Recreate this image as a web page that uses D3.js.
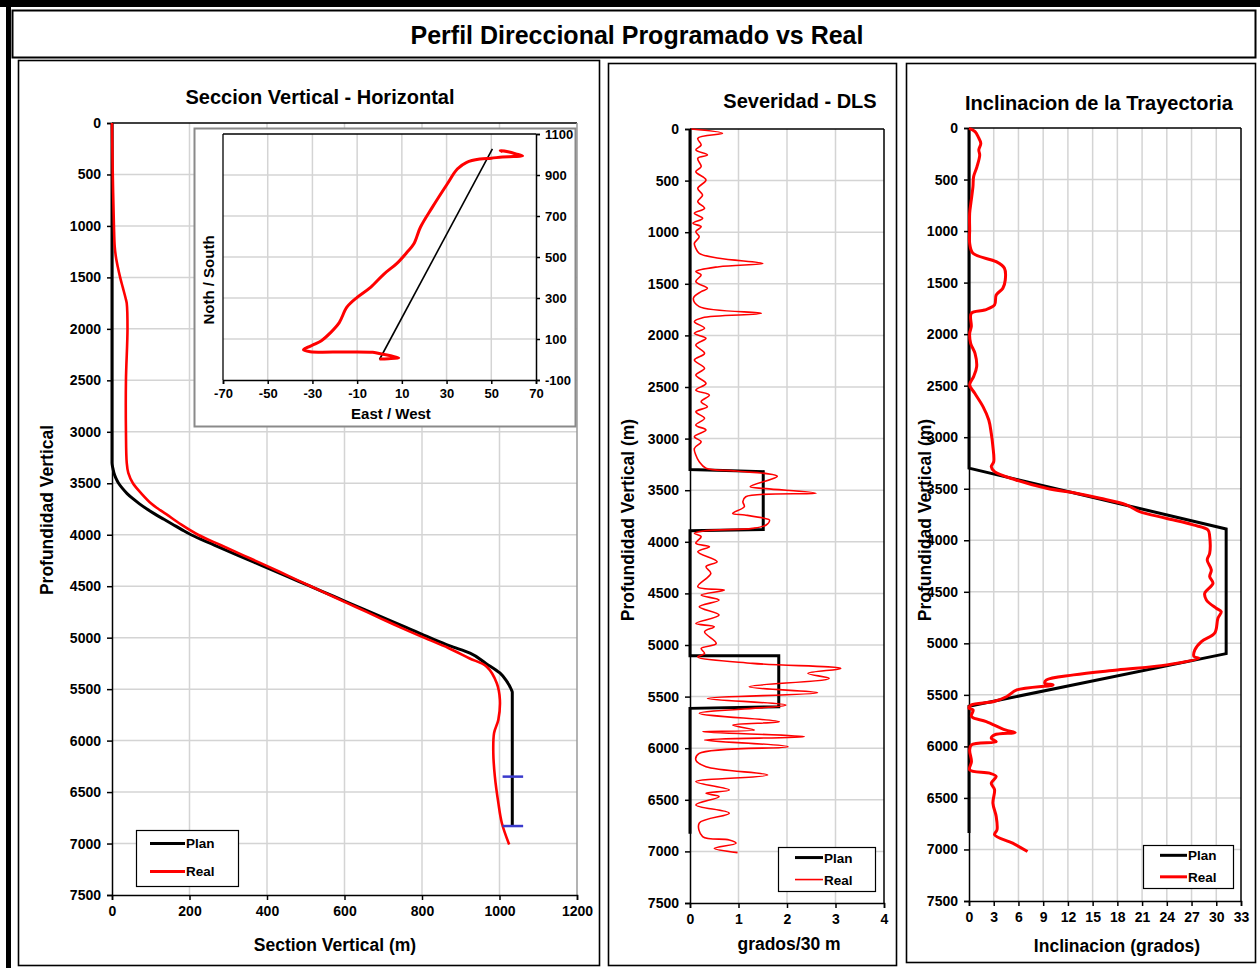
<!DOCTYPE html>
<html>
<head>
<meta charset="utf-8">
<script src="https://cdnjs.cloudflare.com/ajax/libs/d3/7.8.5/d3.min.js"></script>
<style>
  body { margin: 0; background: #fff; }
  svg { display: block; font-family: "Liberation Sans", Arial, sans-serif; }
</style>
</head>
<body>
<svg id="chart" width="1260" height="968"></svg>
<script>
// ---------------- data ----------------
const depthTicks   = [0, 500, 1000, 1500, 2000, 2500, 3000, 3500, 4000, 4500, 5000, 5500, 6000, 6500, 7000, 7500];
const seccionTicks = [0, 200, 400, 600, 800, 1000, 1200];
const ewTicks      = [-70, -50, -30, -10, 10, 30, 50, 70];
const nsTicks      = [-100, 100, 300, 500, 700, 900, 1100];
const dlsTicks     = [0, 1, 2, 3, 4];
const incTicks     = [0, 3, 6, 9, 12, 15, 18, 21, 24, 27, 30, 33];
const seriesNames  = ["Plan", "Real"];

// Vertical section: [section (m), vertical depth (m)]
const seccionPlan = [
  [0, 0], [0, 3300], [2, 3350], [5, 3400], [10, 3450], [17, 3500], [27, 3550], [39, 3600], [54, 3650],
  [71, 3700], [90, 3750], [111, 3800], [134, 3850], [157, 3900], [180, 3950], [204, 4000], [264, 4100],
  [325, 4200], [387, 4300], [449, 4400], [511, 4500], [573, 4600], [635, 4700], [697, 4800], [759, 4900],
  [820, 5000], [872, 5080], [924, 5150], [965, 5250], [1001, 5343], [1018, 5420], [1031, 5508], [1033, 5530],
  [1033, 6830]
];
const seccionReal = [
  [0, 0], [2, 500], [5, 1000], [7, 1200], [10, 1300], [15, 1400], [21, 1500], [28, 1600], [35, 1700],
  [38, 1750], [40, 2000], [36, 2500], [36, 3000], [38, 3300], [42, 3400], [54, 3500], [76, 3600],
  [102, 3700], [120, 3750], [140, 3800], [178, 3900], [222, 4000], [280, 4100], [339, 4200], [398, 4300],
  [455, 4400], [513, 4500], [570, 4600], [628, 4700], [686, 4800], [744, 4900], [805, 5000], [868, 5100],
  [922, 5200], [967, 5282], [993, 5442], [1001, 5603], [997, 5797], [986, 5926], [984, 6120], [988, 6347],
  [997, 6605], [1006, 6800], [1025, 7010]
];
const markerDepths = [6350, 6830];
const markerSpan   = [1008, 1061];

// Plan view: [east / west, north / south]
const ewPlan = [[0, 0], [50.5, 1027]];
const ewReal = [
  [0, 3], [4, 4], [8.6, 8], [5, 18], [1, 27], [-3, 35], [-15, 37], [-31, 38], [-34, 47], [-32, 60],
  [-29, 75], [-26, 92], [-22, 130], [-18, 180], [-14.6, 255], [-10, 303], [-4, 352], [2, 417], [7.8, 469],
  [12.3, 523], [15.3, 563], [18.3, 645], [23.6, 742], [30.3, 856], [34.8, 929], [39, 962], [45, 978],
  [50, 982], [55, 988], [60, 990], [64, 993], [61, 1003], [58, 1012], [54, 1019], [55, 1014]
];

// Dog-leg severity: [grados/30 m, vertical depth (m)]
const dlsPlan = [
  [0, 0], [0, 3300], [1.51, 3320], [1.51, 3880], [0, 3892], [0, 5103], [1.83, 5103], [1.83, 5598],
  [0, 5614], [0, 6830]
];
const dlsReal = [
  [0.03, 0], [0.67, 42], [0.16, 90], [0.23, 155], [0.12, 203], [0.36, 252], [0.16, 284], [0.23, 365],
  [0.12, 413], [0.33, 494], [0.16, 575], [0.26, 640], [0.16, 704], [0.30, 769], [0.09, 817], [0.26, 866],
  [0.06, 914], [0.23, 946], [0.12, 995], [0.19, 1043], [0.09, 1108], [0.12, 1156], [0.19, 1205],
  [0.60, 1253], [1.50, 1302], [0.60, 1334], [0.12, 1382], [0.23, 1414], [0.12, 1479], [0.36, 1544],
  [0.23, 1576], [0.07, 1640], [0.19, 1721], [1.47, 1786], [0.26, 1828], [0.09, 1867], [0.30, 1931],
  [0.09, 1980], [0.33, 2028], [0.12, 2093], [0.30, 2174], [0.09, 2239], [0.30, 2319], [0.12, 2384],
  [0.33, 2465], [0.12, 2530], [0.40, 2578], [0.23, 2643], [0.36, 2691], [0.12, 2740], [0.30, 2804],
  [0.12, 2869], [0.33, 2917], [0.09, 2982], [0.23, 3030], [0.09, 3095], [0.12, 3159], [0.19, 3224],
  [0.33, 3288], [0.95, 3314], [1.80, 3365], [1.24, 3466], [1.57, 3485], [2.60, 3530], [1.15, 3563],
  [1.09, 3611], [1.12, 3660], [0.88, 3724], [1.13, 3740], [1.53, 3772], [1.64, 3789], [1.57, 3837],
  [1.29, 3870], [0.33, 3892], [0.09, 3918], [0.23, 3950], [0.12, 4015], [0.40, 4047], [0.16, 4096],
  [0.56, 4193], [0.33, 4241], [0.43, 4306], [0.16, 4435], [0.71, 4467], [0.23, 4516], [0.60, 4565],
  [0.19, 4630], [0.60, 4710], [0.12, 4791], [0.50, 4823], [0.30, 4872], [0.54, 4985], [0.23, 5033],
  [0.30, 5082], [0.16, 5114], [1.29, 5178], [3.11, 5227], [2.43, 5275], [2.87, 5324], [1.22, 5405],
  [2.63, 5463], [0.36, 5518], [1.98, 5582], [0.19, 5662], [1.84, 5743], [0.88, 5776], [1.33, 5824],
  [0.26, 5840], [2.36, 5888], [0.30, 5921], [2.02, 5985], [0.19, 6050], [0.12, 6114], [0.33, 6179],
  [1.60, 6260], [0.12, 6324], [0.81, 6405], [0.33, 6437], [0.60, 6469], [0.12, 6550], [0.81, 6630],
  [0.19, 6727], [0.26, 6856], [0.81, 6889], [0.95, 6921], [0.50, 6970], [0.98, 7012]
];

// Inclination: [grados, vertical depth (m)]
const incPlan = [[0, 0], [0, 3300], [31.2, 3890], [31.2, 5100], [0, 5610], [0, 6840]];
const incReal = [
  [0, 3], [0.73, 35], [1.1, 84], [1.43, 149], [1.19, 213], [1.3, 262], [0.97, 375], [0.56, 472],
  [0.48, 569], [0.28, 698], [0.08, 828], [0.08, 989], [0.08, 1118], [0.48, 1216], [3.3, 1297],
  [4.3, 1361], [4.4, 1475], [4.1, 1556], [3.3, 1620], [3.1, 1717], [1.9, 1766], [0.28, 1798],
  [0.28, 1927], [0.08, 1992], [0.2, 2089], [0.73, 2186], [0.93, 2315], [0.56, 2412], [0.08, 2493],
  [0.7, 2574], [1.7, 2703], [2.4, 2833], [2.7, 2962], [2.9, 3091], [3.0, 3237], [2.7, 3286], [3.1, 3334],
  [5.7, 3415], [9.4, 3496], [13, 3544], [15.9, 3593], [19.1, 3657], [20.7, 3722], [23.9, 3786],
  [27.2, 3851], [29, 3900], [29.2, 3964], [29.2, 4126], [28.9, 4191], [29.4, 4288], [29.2, 4353],
  [29.6, 4417], [28.6, 4514], [28.8, 4579], [30.0, 4660], [30.6, 4692], [30.2, 4757], [29.8, 4902],
  [28.2, 4983], [27.4, 5064], [27.3, 5128], [27.9, 5144], [24, 5209], [18, 5258], [12.7, 5306],
  [9.4, 5355], [9.2, 5387], [10.2, 5403], [5.8, 5452], [4.6, 5516], [3.0, 5565], [0.3, 5597], [0, 5630],
  [0.5, 5646], [0.3, 5710], [2.1, 5759], [4.4, 5840], [5.6, 5866], [3.1, 5888], [2.7, 5921], [3.3, 5953],
  [0.3, 5985], [0.08, 6034], [0.3, 6147], [0.08, 6228], [2.5, 6260], [3.3, 6292], [2.7, 6357],
  [3.1, 6421], [2.9, 6551], [3.3, 6680], [3.4, 6809], [3.1, 6858], [5.3, 6939], [7.1, 7020]
];

// ---------------- drawing ----------------
const svg = d3.select("#chart");
const GRID = "#d4d4d4";
const RED = "#ff0000";
const FONT = "'Liberation Sans', Arial, sans-serif";
const fmt = d => String(d);   // plain hyphen for negatives

// frame and title
svg.append("rect").attr("x", 0).attr("y", 0).attr("width", 1260).attr("height", 7).attr("fill", "#000");
svg.append("rect").attr("x", 6).attr("y", 0).attr("width", 5).attr("height", 968).attr("fill", "#000");
svg.append("rect").attr("x", 12.5).attr("y", 10.5).attr("width", 1243).attr("height", 47)
  .attr("fill", "#fff").attr("stroke", "#000").attr("stroke-width", 2);
svg.append("text").attr("x", 637).attr("y", 44).attr("text-anchor", "middle")
  .attr("font-size", 25).attr("font-weight", "bold").text("Perfil Direccional Programado vs Real");

const panels = [
  { x: 18.5, y: 60.5, w: 581, h: 905 },
  { x: 608.5, y: 63.5, w: 288, h: 902 },
  { x: 906.5, y: 63.5, w: 349, h: 899 }
];
panels.forEach(p => svg.append("rect").attr("x", p.x).attr("y", p.y).attr("width", p.w).attr("height", p.h)
  .attr("fill", "#fff").attr("stroke", "#000").attr("stroke-width", 1.6));

function styleAxis(a, size) {
  a.select(".domain").attr("stroke", "#000").attr("stroke-width", 1.5);
  a.selectAll(".tick line").attr("stroke", "#000").attr("stroke-width", 1.5);
  a.selectAll(".tick text").attr("font-size", size).attr("font-weight", "bold").attr("fill", "#000")
    .attr("font-family", FONT);
}

function drawDepthChart(cfg) {
  const g = svg.append("g");
  const x = d3.scaleLinear().domain(cfg.xDomain).range([cfg.left, cfg.right]);
  const y = d3.scaleLinear().domain([0, 7500]).range([cfg.top, cfg.bottom]);

  // gridlines
  g.append("g").selectAll("line").data(depthTicks.slice(1, -1)).join("line")
    .attr("x1", cfg.left).attr("x2", cfg.right).attr("y1", d => y(d)).attr("y2", d => y(d))
    .attr("stroke", GRID).attr("stroke-width", 1.5);
  g.append("g").selectAll("line").data(cfg.xTicks.slice(1, -1)).join("line")
    .attr("y1", cfg.top).attr("y2", cfg.bottom).attr("x1", d => x(d)).attr("x2", d => x(d))
    .attr("stroke", GRID).attr("stroke-width", 1.5);

  // frame top / right
  g.append("line").attr("x1", cfg.left).attr("x2", cfg.right).attr("y1", cfg.top).attr("y2", cfg.top)
    .attr("stroke", "#000").attr("stroke-width", 1.5);
  g.append("line").attr("x1", cfg.right).attr("x2", cfg.right).attr("y1", cfg.top).attr("y2", cfg.bottom)
    .attr("stroke", cfg.rightColor).attr("stroke-width", 1.5);

  // axes
  const ya = g.append("g").attr("transform", `translate(${cfg.left},0)`)
    .call(d3.axisLeft(y).tickValues(depthTicks).tickSize(5).tickPadding(6).tickFormat(fmt));
  const xa = g.append("g").attr("transform", `translate(0,${cfg.bottom})`)
    .call(d3.axisBottom(x).tickValues(cfg.xTicks).tickSize(5).tickPadding(6).tickFormat(fmt));
  styleAxis(ya, 14);
  styleAxis(xa, 14);

  // titles
  g.append("text").attr("x", cfg.titleX).attr("y", cfg.titleY).attr("text-anchor", "middle")
    .attr("font-size", 20).attr("font-weight", "bold").text(cfg.title);
  g.append("text").attr("x", cfg.xLabelX).attr("y", cfg.xLabelY).attr("text-anchor", "middle")
    .attr("font-size", 17.5).attr("font-weight", "bold").text(cfg.xLabel);
  g.append("text").attr("transform", `translate(${cfg.yLabelX},${cfg.yLabelY}) rotate(-90)`)
    .attr("text-anchor", "middle").attr("font-size", 17.5).attr("font-weight", "bold").text(cfg.yLabel);

  return { g, x, y };
}

function drawLegend(g, lg) {
  g.append("rect").attr("x", lg.x + 0.5).attr("y", lg.y + 0.5).attr("width", lg.w).attr("height", lg.h)
    .attr("fill", "#fff").attr("stroke", "#000").attr("stroke-width", 1.2);
  const rows = [
    { name: seriesNames[0], color: "#000", width: lg.planWidth, dy: lg.h * 0.24 },
    { name: seriesNames[1], color: RED, width: lg.redWidth, dy: lg.h * 0.74 }
  ];
  rows.forEach(r => {
    g.append("line").attr("x1", lg.x + lg.l0).attr("x2", lg.x + lg.l1)
      .attr("y1", lg.y + r.dy).attr("y2", lg.y + r.dy)
      .attr("stroke", r.color).attr("stroke-width", r.width);
    g.append("text").attr("x", lg.x + lg.l1 + 1).attr("y", lg.y + r.dy + 5).attr("font-size", 13.5)
      .attr("font-weight", "bold").text(r.name);
  });
}

// ---- Seccion Vertical - Horizontal ----
const c1 = drawDepthChart({
  left: 112, right: 577, top: 123, bottom: 895, xDomain: [0, 1200], xTicks: seccionTicks,
  rightColor: "#9a9a9a",
  title: "Seccion Vertical - Horizontal", titleX: 320, titleY: 104,
  xLabel: "Section Vertical (m)", xLabelX: 335, xLabelY: 951,
  yLabel: "Profundidad Vertical", yLabelX: 53, yLabelY: 510
});
const l1 = d3.line().x(d => c1.x(d[0])).y(d => c1.y(d[1]));
c1.g.append("path").attr("d", l1.curve(d3.curveMonotoneY)(seccionPlan))
  .attr("fill", "none").attr("stroke", "#000").attr("stroke-width", 3);
c1.g.append("path").attr("d", l1.curve(d3.curveCatmullRom)(seccionReal))
  .attr("fill", "none").attr("stroke", RED).attr("stroke-width", 2.6);
c1.g.append("g").selectAll("line").data(markerDepths).join("line")
  .attr("x1", c1.x(markerSpan[0])).attr("x2", c1.x(markerSpan[1]))
  .attr("y1", d => c1.y(d)).attr("y2", d => c1.y(d))
  .attr("stroke", "#3a3acc").attr("stroke-width", 2.5);
drawLegend(c1.g, { x: 136, y: 830, w: 102, h: 56, l0: 14, l1: 49, redWidth: 3, planWidth: 3 });

// inset: plan view
(function () {
  const g = c1.g.append("g");
  g.append("rect").attr("x", 194.5).attr("y", 128.5).attr("width", 381).attr("height", 298)
    .attr("fill", "#fff").attr("stroke", "#8a8a8a").attr("stroke-width", 2);
  const L = 223, R = 536, T = 134, B = 380;
  const x = d3.scaleLinear().domain([-70, 70]).range([L, R]);
  const y = d3.scaleLinear().domain([-100, 1100]).range([B, T]);
  g.append("g").selectAll("line").data(nsTicks.slice(1, -1)).join("line")
    .attr("x1", L).attr("x2", R).attr("y1", d => y(d)).attr("y2", d => y(d))
    .attr("stroke", GRID).attr("stroke-width", 1.5);
  g.append("g").selectAll("line").data(ewTicks.slice(1, -1)).join("line")
    .attr("y1", T).attr("y2", B).attr("x1", d => x(d)).attr("x2", d => x(d))
    .attr("stroke", GRID).attr("stroke-width", 1.5);
  g.append("line").attr("x1", L).attr("x2", R).attr("y1", T).attr("y2", T).attr("stroke", "#000").attr("stroke-width", 1.3);
  g.append("line").attr("x1", L).attr("x2", L).attr("y1", T).attr("y2", B).attr("stroke", "#000").attr("stroke-width", 1.3);
  const ra = g.append("g").attr("transform", `translate(${R},0)`)
    .call(d3.axisRight(y).tickValues(nsTicks).tickSize(4).tickPadding(5).tickFormat(fmt));
  const ba = g.append("g").attr("transform", `translate(0,${B})`)
    .call(d3.axisBottom(x).tickValues(ewTicks).tickSize(4).tickPadding(5).tickFormat(fmt));
  styleAxis(ra, 13);
  styleAxis(ba, 13);
  g.append("text").attr("x", 391).attr("y", 419).attr("text-anchor", "middle")
    .attr("font-size", 15).attr("font-weight", "bold").text("East / West");
  g.append("text").attr("transform", "translate(214,280) rotate(-90)").attr("text-anchor", "middle")
    .attr("font-size", 15).attr("font-weight", "bold").text("Noth / South");
  const line = d3.line().x(d => x(d[0])).y(d => y(d[1]));
  g.append("path").attr("d", line(ewPlan)).attr("fill", "none").attr("stroke", "#000").attr("stroke-width", 1.6);
  g.append("path").attr("d", line.curve(d3.curveCatmullRom)(ewReal)).attr("fill", "none")
    .attr("stroke", RED).attr("stroke-width", 3).attr("stroke-linejoin", "round");
})();

// ---- Severidad - DLS ----
const c2 = drawDepthChart({
  left: 690, right: 884, top: 129, bottom: 903, xDomain: [0, 4], xTicks: dlsTicks,
  rightColor: "#000",
  title: "Severidad - DLS", titleX: 800, titleY: 108,
  xLabel: "grados/30 m", xLabelX: 789, xLabelY: 950,
  yLabel: "Profundidad Vertical (m)", yLabelX: 634, yLabelY: 520
});
const l2 = d3.line().x(d => c2.x(d[0])).y(d => c2.y(d[1]));
c2.g.append("path").attr("d", l2(dlsPlan))
  .attr("fill", "none").attr("stroke", "#000").attr("stroke-width", 3);
c2.g.append("path").attr("d", l2.curve(d3.curveCatmullRom)(dlsReal))
  .attr("fill", "none").attr("stroke", RED).attr("stroke-width", 1.6);
drawLegend(c2.g, { x: 778, y: 847, w: 97, h: 44, l0: 17, l1: 45, redWidth: 1.6, planWidth: 3 });

// ---- Inclinacion de la Trayectoria ----
const c3 = drawDepthChart({
  left: 969, right: 1241, top: 128, bottom: 901, xDomain: [0, 33], xTicks: incTicks,
  rightColor: "#000",
  title: "Inclinacion de la Trayectoria", titleX: 1099, titleY: 110,
  xLabel: "Inclinacion (grados)", xLabelX: 1117, xLabelY: 952,
  yLabel: "Profundidad Vertical (m)", yLabelX: 931, yLabelY: 520
});
const l3 = d3.line().x(d => c3.x(d[0])).y(d => c3.y(d[1]));
c3.g.append("path").attr("d", l3(incPlan))
  .attr("fill", "none").attr("stroke", "#000").attr("stroke-width", 3);
c3.g.append("path").attr("d", l3.curve(d3.curveCatmullRom)(incReal))
  .attr("fill", "none").attr("stroke", RED).attr("stroke-width", 3).attr("stroke-linejoin", "round");
drawLegend(c3.g, { x: 1143, y: 845, w: 90, h: 43, l0: 17, l1: 44, redWidth: 3, planWidth: 3 });
</script>
</body>
</html>
